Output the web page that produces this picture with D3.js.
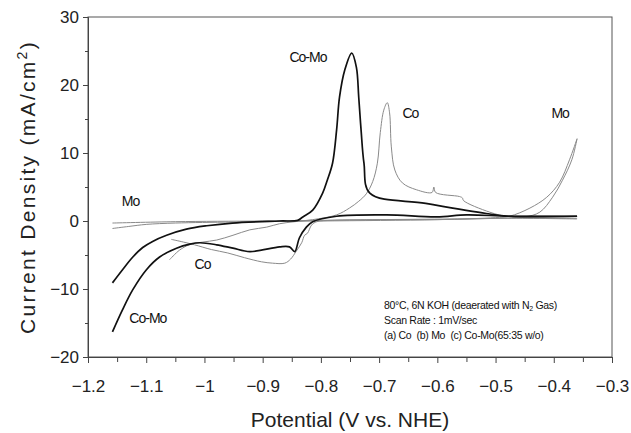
<!DOCTYPE html>
<html lang="en">
<head>
  <meta charset='utf-8'>
  <title>Polarization curves</title>
  <style>
    body { margin: 0; background: #fff; }
    svg { display: block; font-family: "Liberation Sans", Arial, sans-serif; }
    .domain { stroke: #444; }
    .tick line { stroke: #444; }
    .tick text { fill: #222; font-size: 17px; }
    .note text { white-space: pre; }
  </style>
</head>
<body>

  <div id="cv_plot"></div>

<script src="https://cdn.jsdelivr.net/npm/d3@7"></script>
<script>

  ////////////////////////////////////////////////// DATA  [potential V, current mA/cm2]

  var coMoForward = [[-1.158,-9.1],[-1.141,-7.2],[-1.123,-5.3],[-1.106,-3.9],[-1.089,-3.0],[-1.065,-2.1],
    [-1.031,-1.2],[-0.996,-0.7],[-0.952,-0.3],[-0.871,0],[-0.84,0.1],[-0.831,0.6],[-0.814,1.6],[-0.797,4.1],
    [-0.789,6],[-0.78,8.5],[-0.773,13.4],[-0.768,18.2],[-0.759,22.2],[-0.747,24.7],[-0.739,22.6],[-0.735,18.2],
    [-0.731,13.4],[-0.726,8.5],[-0.716,4.1],[-0.62,2.6],[-0.516,1.1],[-0.476,0.7],[-0.36,0.7]];

  var coMoReverse = [[-0.36,0.7],[-0.476,0.7],[-0.55,0.9],[-0.601,0.6],[-0.687,0.9],[-0.773,0.7],[-0.814,-0.1],
    [-0.825,-0.9],[-0.837,-2.5],[-0.845,-4.5],[-0.854,-3.8],[-0.871,-3.8],[-0.922,-4.5],[-0.951,-4.0],[-0.979,-3.5],
    [-1.008,-3.2],[-1.025,-3.4],[-1.048,-4.0],[-1.077,-5.3],[-1.1,-7.2],[-1.123,-10.1],[-1.141,-13.1],[-1.158,-16.3]];

  var coForward = [[-1.06,-5.7],[-1.043,-4.3],[-1.026,-3.5],[-1.003,-3.1],[-0.979,-2.8],[-0.951,-2.1],[-0.922,-1.3],
    [-0.893,-0.9],[-0.871,-0.4],[-0.845,-0.1],[-0.814,0.2],[-0.773,0.9],[-0.751,1.9],[-0.735,2.9],[-0.722,4.0],
    [-0.711,5.8],[-0.703,8.5],[-0.698,13.0],[-0.692,16.3],[-0.686,17.4],[-0.682,15.9],[-0.679,10.9],[-0.673,7.5],
    [-0.66,5.6],[-0.636,4.6],[-0.609,4.2],[-0.606,5.0],[-0.603,4.2],[-0.562,3.6],[-0.557,3.4],[-0.555,3.0],
    [-0.51,1.3],[-0.476,0.6],[-0.42,0.4],[-0.36,0.4]];

  var coReverse = [[-0.36,0.3],[-0.48,0.4],[-0.6,0.2],[-0.7,0.2],[-0.78,0.1],[-0.807,-0.1],[-0.816,-0.6],
    [-0.823,-1.8],[-0.828,-2.1],[-0.833,-3.2],[-0.842,-4.4],[-0.852,-5.6],[-0.862,-6.2],[-0.883,-6.2],[-0.902,-6.0],
    [-0.931,-5.4],[-0.96,-4.7],[-0.988,-4.2],[-1.017,-3.5],[-1.036,-3.1],[-1.057,-2.7]];

  var moForward = [[-1.158,-1.1],[-1.13,-0.8],[-1.1,-0.5],[-1.05,-0.3],[-0.95,-0.15],[-0.8,0],[-0.6,0.2],
    [-0.5,0.5],[-0.476,0.7],[-0.441,1.9],[-0.412,3.5],[-0.39,5.7],[-0.373,9.0],[-0.36,12.1]];

  var moReverse = [[-0.36,12.1],[-0.369,9.0],[-0.385,6.0],[-0.402,3.5],[-0.424,1.3],[-0.45,0.6],[-0.5,0.4],
    [-0.7,0.2],[-0.9,0.0],[-1.05,-0.1],[-1.158,-0.3]];

  var xTicks = [-1.2,-1.1,-1,-0.9,-0.8,-0.7,-0.6,-0.5,-0.4,-0.3];
  var xMinorTicks = [-1.15,-1.05,-0.95,-0.85,-0.75,-0.65,-0.55,-0.45,-0.35];
  var yTicks = [-20,-10,0,10,20,30];
  var yMinorTicks = [-15,-5,5,15,25];

  // label text, left edge / vertical centre in data units
  var curveLabels = [
    {text: "Co-Mo", v: -0.854, c: 24.1},
    {text: "Co",    v: -0.660, c: 15.9},
    {text: "Mo",    v: -0.404, c: 15.9},
    {text: "Mo",    v: -1.142, c: 2.9},
    {text: "Co",    v: -1.017, c: -6.3},
    {text: "Co-Mo", v: -1.129, c: -14.3}
  ];

  var noteLines = ["80\u00B0C, 6N KOH (deaerated with N", "Scan Rate : 1mV/sec", "(a) Co  (b) Mo  (c) Co-Mo(65:35 w/o)"];

  ////////////////////////////////////////////////// SETUP

  var totalWidth = 631, totalHeight = 433;
  var margin = {top: 17, right: 19, bottom: 76, left: 88};
  var plotWidth = totalWidth - margin.left - margin.right;
  var plotHeight = totalHeight - margin.top - margin.bottom;

  var svg = d3.select("#cv_plot").append("svg")
    .attr("width", totalWidth)
    .attr("height", totalHeight);

  var g = svg.append("g")
    .attr("transform", "translate(" + margin.left + "," + margin.top + ")");

  var xScale = d3.scaleLinear().domain([-1.2, -0.3]).range([0, plotWidth]);
  var yScale = d3.scaleLinear().domain([-20, 30]).range([plotHeight, 0]);

  var fmt = d3.format("~g");

  // frame
  g.append("rect")
    .attr("width", plotWidth)
    .attr("height", plotHeight)
    .attr("fill", "none")
    .attr("stroke", "#555")
    .attr("stroke-width", 1);

  // axes
  g.append("g")
    .attr("transform", "translate(0," + plotHeight + ")")
    .call(d3.axisBottom(xScale).tickValues(xTicks).tickFormat(fmt).tickSize(6).tickPadding(17));

  g.append("g")
    .attr("transform", "translate(0," + plotHeight + ")")
    .call(d3.axisBottom(xScale).tickValues(xMinorTicks).tickFormat("").tickSize(5))
    .select(".domain").remove();

  g.append("g")
    .call(d3.axisLeft(yScale).tickValues(yTicks).tickFormat(fmt).tickSize(5).tickPadding(4));

  g.append("g")
    .call(d3.axisLeft(yScale).tickValues(yMinorTicks).tickFormat("").tickSize(3))
    .select(".domain").remove();

  // axis titles
  svg.append("text")
    .attr("x", margin.left + plotWidth / 2)
    .attr("y", 427)
    .attr("text-anchor", "middle")
    .attr("font-size", "21px")
    .attr("fill", "#222")
    .text("Potential (V vs. NHE)");

  var yTitle = svg.append("text")
    .attr("transform", "translate(35," + (margin.top + plotHeight / 2) + ") rotate(-90)")
    .attr("text-anchor", "middle")
    .attr("font-size", "21px")
    .attr("letter-spacing", "2.3px")
    .attr("fill", "#222");
  yTitle.append("tspan").text("Current Density (mA/cm");
  yTitle.append("tspan").attr("font-size", "14px").attr("dy", "-8").text("2");
  yTitle.append("tspan").attr("dy", "8").text(")");

  ////////////////////////////////////////////////// CURVES

  var line = d3.line()
    .x(function(d) { return xScale(d[0]); })
    .y(function(d) { return yScale(d[1]); })
    .curve(d3.curveCatmullRom.alpha(0.5));

  var series = [
    {data: moForward,   color: "#8a8a8a", width: 1},
    {data: moReverse,   color: "#8a8a8a", width: 1},
    {data: coForward,   color: "#8a8a8a", width: 1},
    {data: coReverse,   color: "#8a8a8a", width: 1},
    {data: coMoForward, color: "#111",    width: 1.7},
    {data: coMoReverse, color: "#111",    width: 1.7}
  ];

  g.selectAll(".cv")
    .data(series)
    .enter()
    .append("path")
    .attr("class", "cv")
    .attr("d", function(d) { return line(d.data); })
    .attr("fill", "none")
    .attr("stroke", function(d) { return d.color; })
    .attr("stroke-width", function(d) { return d.width; })
    .attr("stroke-linejoin", "round");

  ////////////////////////////////////////////////// LABELS

  g.selectAll(".clabel")
    .data(curveLabels)
    .enter()
    .append("text")
    .attr("class", "clabel")
    .attr("x", function(d) { return xScale(d.v); })
    .attr("y", function(d) { return yScale(d.c); })
    .attr("dy", "0.35em")
    .attr("font-size", "14px")
    .attr("letter-spacing", "-1px")
    .attr("fill", "#111")
    .text(function(d) { return d.text; });

  var note = g.append("g")
    .attr("class", "note")
    .attr("transform", "translate(" + (384 - margin.left) + "," + (309 - margin.top) + ")")
    .attr("font-size", "10.5px")
    .attr("letter-spacing", "-0.3px")
    .attr("fill", "#111");

  var first = note.append("text").attr("y", 0);
  first.append("tspan").text(noteLines[0]);
  first.append("tspan").attr("font-size", "7px").attr("dy", "2").text("2");
  first.append("tspan").attr("dy", "-2").text(" Gas)");

  note.append("text").attr("y", 15).text(noteLines[1]);
  note.append("text").attr("y", 30).text(noteLines[2]);

</script>
</body>
</html>
